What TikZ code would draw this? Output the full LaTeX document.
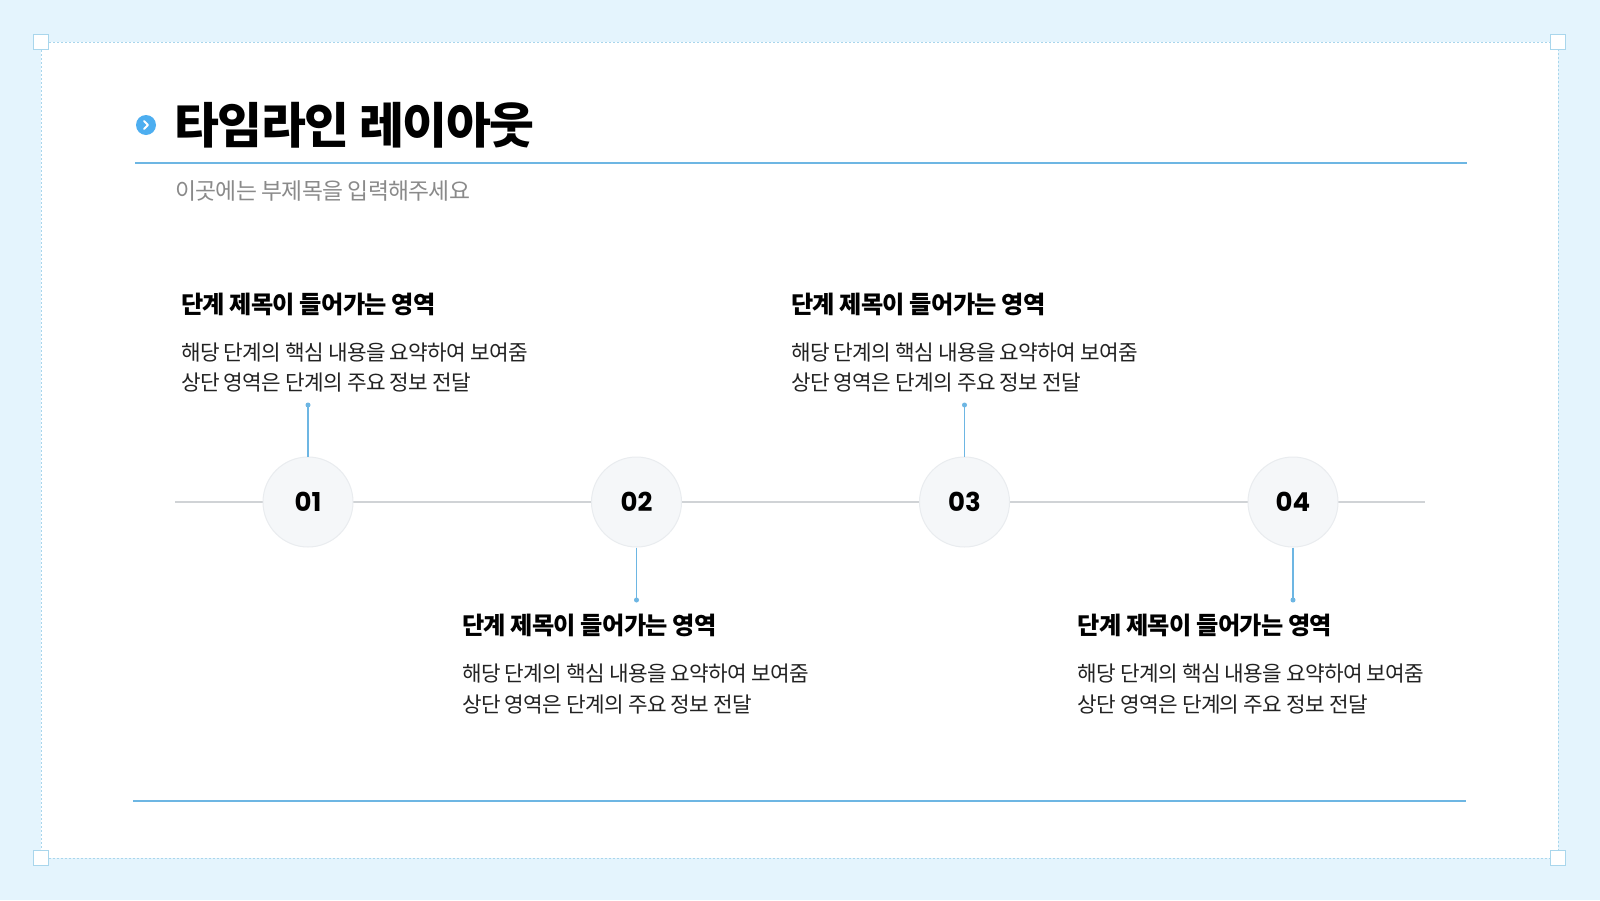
\documentclass[tikz,border=0pt]{standalone}
\usepackage{fontspec}
\usetikzlibrary{calc}
\setmainfont{Noto Sans CJK KR}[LetterSpace=-3]
\newfontfamily\numfont{Poppins}
\definecolor{bgblue}{HTML}{E4F4FD}
\definecolor{framec}{HTML}{A9D6EC}
\definecolor{accent}{HTML}{6DB6E3}
\definecolor{bullet}{HTML}{4DAEF0}
\definecolor{linegray}{HTML}{D0D3D6}
\definecolor{circfill}{HTML}{F5F7F9}
\definecolor{circedge}{HTML}{E9ECEF}
\definecolor{subgray}{HTML}{8A8A8A}
\definecolor{bodytext}{HTML}{222222}
\tikzset{
  corner/.style={draw=framec, fill=white, line width=0.8pt, minimum size=15pt, inner sep=0pt},
  stepcirc/.style={circle, fill=circfill, draw=circedge, line width=1pt, minimum size=90pt, inner sep=0pt,
    font=\numfont\bfseries\fontsize{26}{30}\selectfont, text=black},
  stephead/.style={anchor=base west, inner sep=0pt, font=\bfseries\fontsize{24.2}{28}\selectfont, text=black},
  stepbody/.style={anchor=base west, inner sep=0pt, font=\fontsize{21.3}{25}\selectfont, text=bodytext},
  conn/.style={draw=accent, line width=1.6pt},
  dotc/.style={fill=accent, circle, inner sep=0pt, minimum size=5pt},
}
\begin{document}
\begin{tikzpicture}[x=1pt,y=-1pt]
\useasboundingbox (0,0) rectangle (1600,900);
\fill[bgblue] (0,0) rectangle (1600,900);
\fill[white] (41,42) rectangle (1558,858);
\draw[framec, line width=0.8pt, dash pattern=on 2pt off 2pt] (41,42) rectangle (1558,858);
\node[corner] (k1) at (41,42) {};
\node[corner] (k2) at (1558,42) {};
\node[corner] (k3) at (41,858) {};
\node[corner] (k4) at (1558,858) {};
% title
\node[circle, fill=bullet, minimum size=20pt, inner sep=0pt] (bul) at (146,125) {};
\draw[white, line width=1.8pt, line cap=round, line join=round] ($(bul.center)+(-2,-4)$) -- ++(4,4) -- ++(-4,4);
\node[anchor=base west, inner sep=0pt, font=\bfseries\fontsize{48.8}{58}\selectfont, text=black] (title) at (174,143.5) {타임라인 레이아웃};
\draw[accent, line width=2pt] (135,162.5) -- (1467,162.5);
\node[anchor=base west, inner sep=0pt, font=\fontsize{22.8}{27}\selectfont, text=subgray] (sub) at (175,199.3) {이곳에는 부제목을 입력해주세요};
% timeline
\coordinate (tl0) at (175,502);
\coordinate (tl1) at (1425,502);
\draw[linegray, line width=1.2pt] (tl0) -- (tl1);
\node[stepcirc] (c1) at (308,502) {01};
\node[stepcirc] (c2) at (636.5,502) {02};
\node[stepcirc] (c3) at (964.5,502) {03};
\node[stepcirc] (c4) at (1293,502) {04};
% connectors
\coordinate (d1) at (308,405);
\coordinate (d2) at (636.5,600);
\coordinate (d3) at (964.5,405);
\coordinate (d4) at (1293,600);
\draw[conn] (c1.north) -- (d1);
\draw[conn] (c2.south) -- (d2);
\draw[conn] (c3.north) -- (d3);
\draw[conn] (c4.south) -- (d4);
\node[dotc] at (d1) {};
\node[dotc] at (d2) {};
\node[dotc] at (d3) {};
\node[dotc] at (d4) {};
% step texts
\node[stephead] (h1) at (181,313.8) {단계 제목이 들어가는 영역};
\node[stepbody] (b1a) at (181,360) {해당 단계의 핵심 내용을 요약하여 보여줌};
\node[stepbody] (b1b) at (181,390.6) {상단 영역은 단계의 주요 정보 전달};
\node[stephead] (h3) at (791,313.8) {단계 제목이 들어가는 영역};
\node[stepbody] (b3a) at (791,360) {해당 단계의 핵심 내용을 요약하여 보여줌};
\node[stepbody] (b3b) at (791,390.6) {상단 영역은 단계의 주요 정보 전달};
\node[stephead] (h2) at (462,634.8) {단계 제목이 들어가는 영역};
\node[stepbody] (b2a) at (462,681.5) {해당 단계의 핵심 내용을 요약하여 보여줌};
\node[stepbody] (b2b) at (462,712) {상단 영역은 단계의 주요 정보 전달};
\node[stephead] (h4) at (1077.5,634.8) {단계 제목이 들어가는 영역};
\node[stepbody] (b4a) at (1077.5,681.5) {해당 단계의 핵심 내용을 요약하여 보여줌};
\node[stepbody] (b4b) at (1077.5,712) {상단 영역은 단계의 주요 정보 전달};
% bottom rule
\draw[accent, line width=2pt] (133,801) -- (1466,801);
\end{tikzpicture}
\end{document}
